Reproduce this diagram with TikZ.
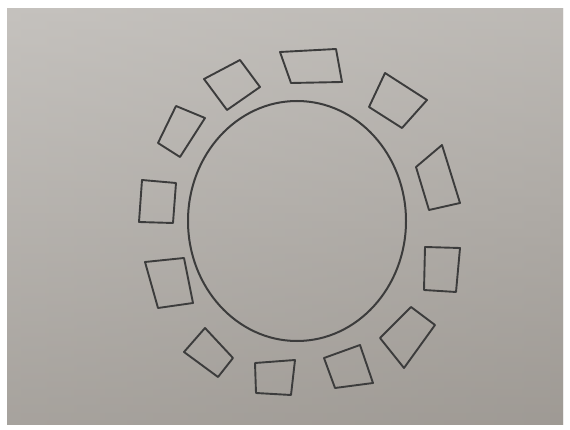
\documentclass[tikz,border=0pt]{standalone}
\usetikzlibrary{calc}
\definecolor{paperLeft}{RGB}{198,195,191}
\definecolor{paperRight}{RGB}{178,174,169}
\definecolor{paperTop}{RGB}{196,193,189}
\definecolor{paperBottom}{RGB}{146,141,135}
\definecolor{pencil}{RGB}{60,60,60}
\begin{document}
\begin{tikzpicture}[
        x=1pt, y=-1pt,
        pencil line/.style={draw=pencil, line width=1.9pt, line cap=round, line join=round},
        seat/.style={pencil line},
        table/.style={pencil line, line width=2pt},
    ]
    % page and paper
    \useasboundingbox (0,0) rectangle (570,430);
    \fill[white] (0,0) rectangle (570,430);
    \shade[left color=paperLeft, right color=paperRight] (7,9) rectangle (563,424);
    \shade[top color=paperTop, bottom color=paperBottom, opacity=0.6] (7,9) rectangle (563,424);

    % round table
    \draw[table] (297,221) ellipse[x radius=109, y radius=120];

    % chairs round the table
    \foreach \a/\b/\c/\d in {
        {(280,52)}/{(336,49)}/{(342,82)}/{(291,83)},
        {(204,79)}/{(240,60)}/{(260,87)}/{(227,110)},
        {(176,106)}/{(205,118)}/{(180,157)}/{(158,143)},
        {(142,180)}/{(176,183)}/{(173,223)}/{(139,222)},
        {(145,262)}/{(184,258)}/{(193,303)}/{(158,308)},
        {(205,328)}/{(233,358)}/{(218,377)}/{(184,352)},
        {(255,363)}/{(295,360)}/{(291,395)}/{(256,393)},
        {(324,358)}/{(360,345)}/{(373,383)}/{(335,388)},
        {(380,338)}/{(411,307)}/{(435,325)}/{(404,368)},
        {(425,247)}/{(460,248)}/{(456,292)}/{(424,290)},
        {(416,167)}/{(442,145)}/{(460,203)}/{(429,210)},
        {(385,73)}/{(427,100)}/{(402,128)}/{(369,107)}}
        \draw[seat] \a -- \b -- \c -- \d -- cycle;
\end{tikzpicture}
\end{document}
